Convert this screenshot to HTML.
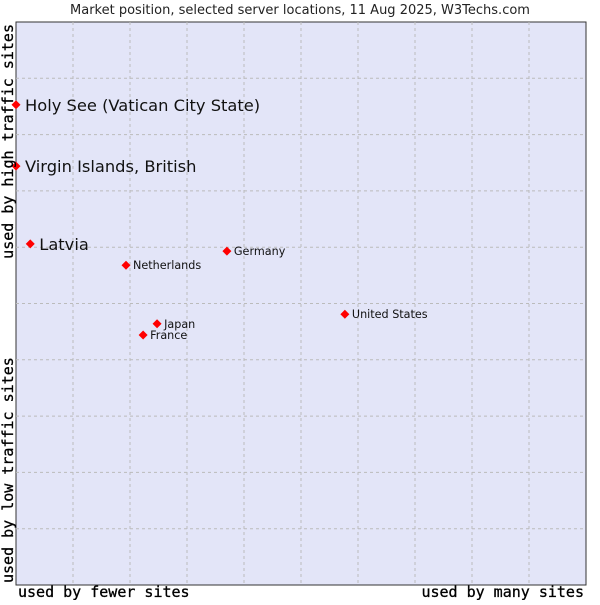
<!DOCTYPE html>
<html><head><meta charset="utf-8"><style>
body{margin:0;background:#fff;}
svg text{font-family:"DejaVu Sans","Liberation Sans",sans-serif;}
.mono{font-family:"DejaVu Sans Mono","Liberation Mono",monospace;font-size:15px;stroke:#000;stroke-width:0.3;}
</style></head><body>
<svg id="chart" width="600" height="600" xmlns="http://www.w3.org/2000/svg">
<rect width="600" height="600" fill="#fff"/>
<text x="300" y="14" text-anchor="middle" font-size="13" fill="#222">Market position, selected server locations, 11 Aug 2025, W3Techs.com</text>
<rect x="16" y="22" width="570" height="563" fill="#e3e5f8" stroke="#333" stroke-width="1"/>
<g id="grid"></g>
<g id="points"></g>
<text class="mono" x="18" y="597">used by fewer sites</text>
<text class="mono" x="584" y="597" text-anchor="end">used by many sites</text>
<text class="mono" transform="translate(13,24) rotate(-90)" text-anchor="end">used by high traffic sites</text>
<text class="mono" transform="translate(13,583) rotate(-90)">used by low traffic sites</text>
</svg>
<script>
const names=["Holy See (Vatican City State)","Virgin Islands, British","Latvia","Netherlands","Germany","United States","Japan","France"];
const xs=[0,0,2.5,19.3,37.0,57.7,24.75,22.3];
const ys=[85.3,74.4,60.6,56.8,59.3,48.1,46.4,44.4];
const big=[true,true,true,false,false,false,false,false];
const L=16,T=22,W=570,H=563;
const sx=v=>L+v/100*W, sy=v=>T+H-v/100*H;
const ns="http://www.w3.org/2000/svg";
const g=document.getElementById('grid');
for(let i=1;i<10;i++){
 const a=document.createElementNS(ns,'line');
 a.setAttribute('x1',sx(i*10));a.setAttribute('x2',sx(i*10));a.setAttribute('y1',T);a.setAttribute('y2',T+H);
 a.setAttribute('stroke','#bbb');a.setAttribute('stroke-dasharray','3,3');
 
 
 g.appendChild(a);
 const b=document.createElementNS(ns,'line');
 b.setAttribute('y1',sy(i*10));b.setAttribute('y2',sy(i*10));b.setAttribute('x1',L);b.setAttribute('x2',L+W);
 b.setAttribute('stroke','#bbb');b.setAttribute('stroke-dasharray','3,3');
 
 
 g.appendChild(b);
}
const p=document.getElementById('points');
names.forEach((n,i)=>{
 const x=sx(xs[i]),y=sy(ys[i]);
 const d=document.createElementNS(ns,'polygon');
 const r=4.5;
 d.setAttribute('points',`${x},${y-r} ${x+r},${y} ${x},${y+r} ${x-r},${y}`);
 d.setAttribute('fill','#f00');
 
 
 p.appendChild(d);
 const t=document.createElementNS(ns,'text');
 t.setAttribute('x',x+(big[i]?9:7));t.setAttribute('y',y+(big[i]?6:4));
 t.setAttribute('font-size',big[i]?16.3:11.2);t.setAttribute('fill','#111');
 t.textContent=n;
 
 
 p.appendChild(t);
});
</script>
</body></html>
